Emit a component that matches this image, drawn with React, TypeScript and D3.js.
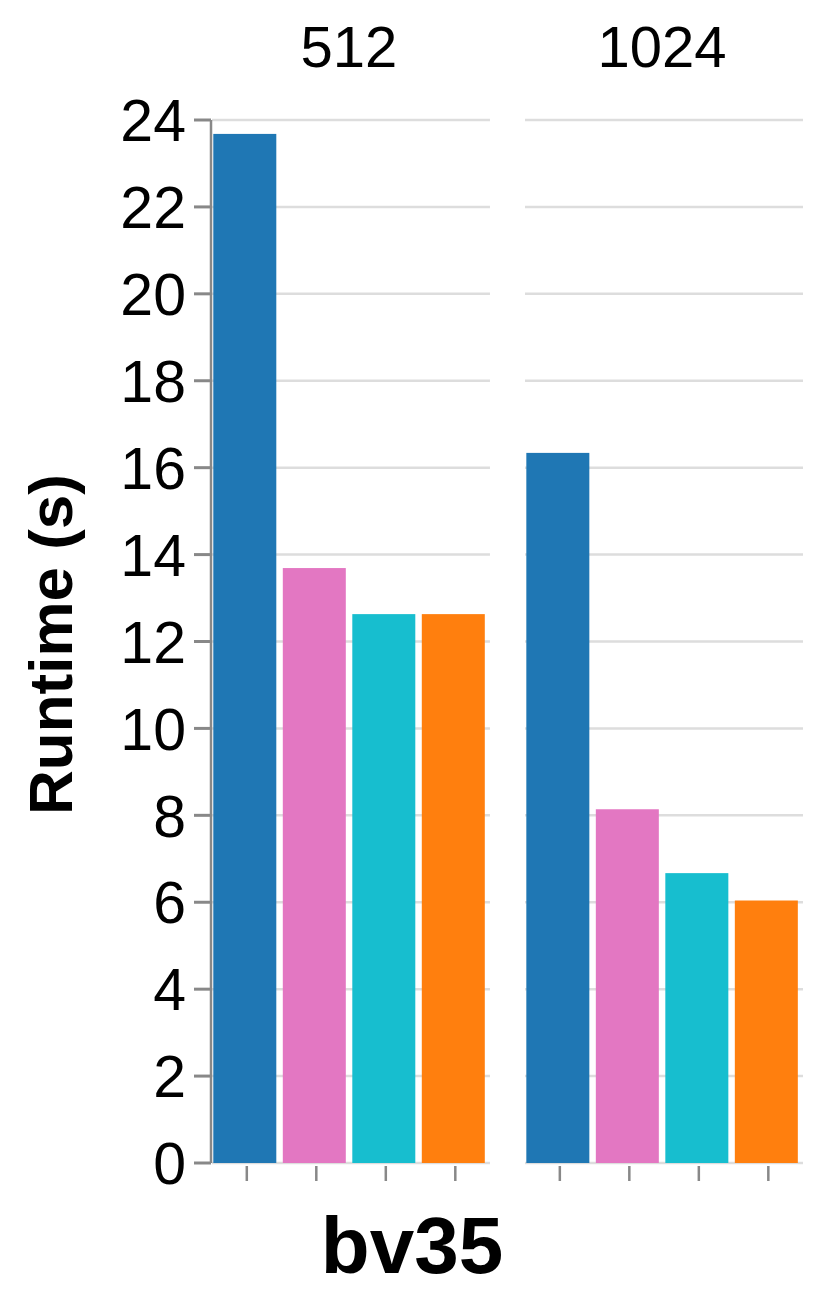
import React from "react";
import * as d3 from "d3";

const facets = ["512", "1024"];
const seriesNames = ["s1", "s2", "s3", "s4"];
const colors = ["#1f77b4", "#e377c2", "#17becf", "#ff7f0e"];
const values512 = [23.68, 13.69, 12.63, 12.63];
const values1024 = [16.34, 8.14, 6.67, 6.04];
const yTicks = [0, 2, 4, 6, 8, 10, 12, 14, 16, 18, 20, 22, 24];
const yTitle = "Runtime (s)";
const xTitle = "bv35";

const W = 830;
const H = 1299;
const FONT = "'Liberation Sans', Arial, Helvetica, sans-serif";

export default function App() {
  const y = d3.scaleLinear().domain([0, 24]).range([1163, 120]);
  const facetX = d3.scaleBand().domain(facets).range([212, 803]).paddingInner(0.112);
  const facetValues = [values512, values1024];
  const fw = facetX.bandwidth();

  return (
    <svg width={W} height={H} style={{ position: "absolute", left: 0, top: 0, background: "#fff" }}>
      {facets.map((f, fi) => {
        const x0 = facetX(f)!;
        const xb = d3
          .scaleBand()
          .domain(seriesNames)
          .range([x0 + 1.3, x0 + 1.3 + 271.5])
          .paddingInner(0.0935)
          .paddingOuter(0);
        const vals = facetValues[fi];
        return (
          <g key={f}>
            {yTicks.map((t) => (
              <line key={t} x1={x0} x2={x0 + fw} y1={y(t)} y2={y(t)} stroke="#dddddd" strokeWidth={2.5} />
            ))}
            {seriesNames.map((s, i) => (
              <rect
                key={s}
                x={xb(s)!}
                y={y(vals[i])}
                width={xb.bandwidth()}
                height={y(0) - y(vals[i])}
                fill={colors[i]}
              />
            ))}
            {seriesNames.map((s) => (
              <line
                key={"t" + s}
                x1={xb(s)! + xb.bandwidth() / 2 + 2}
                x2={xb(s)! + xb.bandwidth() / 2 + 2}
                y1={1166}
                y2={1181}
                stroke="#888888"
                strokeWidth={2.5}
              />
            ))}
            <text
              x={x0 + fw / 2 - 2}
              y={67}
              textAnchor="middle"
              fontFamily={FONT}
              fontSize={58}
              fill="#000"
            >
              {f}
            </text>
          </g>
        );
      })}
      {/* y axis */}
      <line x1={211} x2={211} y1={y(24)} y2={y(0)} stroke="#888888" strokeWidth={2.5} />
      {yTicks.map((t) => (
        <g key={t}>
          <line x1={194} x2={211} y1={y(t)} y2={y(t)} stroke="#888888" strokeWidth={3} />
          <text
            x={186}
            y={y(t)}
            dy="0.36em"
            textAnchor="end"
            fontFamily={FONT}
            fontSize={59}
            fill="#000"
          >
            {t}
          </text>
        </g>
      ))}
      <text
        transform={`translate(72, ${(y(0) + y(24)) / 2 + 3}) rotate(-90)`}
        textAnchor="middle"
        fontFamily={FONT}
        fontWeight="bold"
        fontSize={62}
        fill="#000"
      >
        {yTitle}
      </text>
      <text
        x={412}
        y={1273}
        textAnchor="middle"
        fontFamily={FONT}
        fontWeight="bold"
        fontSize={80}
        fill="#000"
      >
        {xTitle}
      </text>
    </svg>
  );
}
